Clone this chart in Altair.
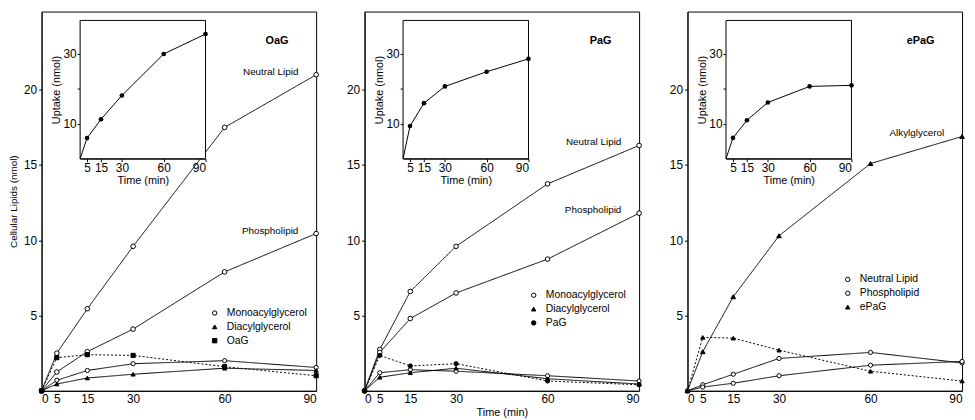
import altair as alt
import pandas as pd

FONT = "Liberation Sans"

times = [0, 5, 15, 30, 60, 90]
main_x_ticks = [0, 5, 15, 30, 60, 90]
main_y_ticks = [5, 10, 15, 20]
inset_x_ticks = [5, 15, 30, 60, 90]
inset_y_ticks = [10, 20, 30]
main_y_domain = [0, 25.2]
inset_t_domain = [0, 90]
inset_u_domain = [0, 39.6]

panel_names = ["OaG", "PaG", "ePaG"]

# ---- OaG panel
oag_neutral_lipid = [0, 2.5, 5.45, 9.6, 17.5, 21.0]
oag_phospholipid = [0, 1.25, 2.6, 4.1, 7.9, 10.45]
oag_monoacylglycerol = [0, 0.7, 1.35, 1.8, 2.0, 1.55]
oag_diacylglycerol = [0, 0.45, 0.85, 1.1, 1.5, 1.35]
oag_substrate = [0, 2.2, 2.4, 2.35, 1.6, 1.0]
oag_uptake = [0, 5.9, 11.3, 18.1, 30.0, 35.7]

# ---- PaG panel
pag_neutral_lipid = [0, 2.75, 6.6, 9.6, 13.75, 16.3]
pag_phospholipid = [0, 2.55, 4.8, 6.5, 8.75, 11.8]
pag_monoacylglycerol = [0, 1.2, 1.4, 1.3, 1.0, 0.65]
pag_diacylglycerol = [0, 0.9, 1.2, 1.5, 0.8, 0.45]
pag_substrate = [0, 2.35, 1.65, 1.8, 0.65, 0.4]
pag_uptake = [0, 9.35, 15.9, 20.7, 24.9, 28.6]

# ---- ePaG panel
epag_alkylglycerol = [0, 2.6, 6.25, 10.3, 15.1, 16.9]
epag_neutral_lipid = [0, 0.4, 1.1, 2.15, 2.55, 1.85]
epag_phospholipid = [0, 0.25, 0.5, 1.0, 1.7, 1.95]
epag_substrate = [0, 3.55, 3.5, 2.7, 1.3, 0.65]
epag_uptake = [0, 5.95, 11.0, 16.1, 20.7, 21.0]

W = 278
H = 384
INSET_X_RANGE = [39, 166]
INSET_Y_RANGE = [149, 9]


def make_panel(name, labeled, labeled_shape, labeled_fill, legend_series,
               uptake, legend_xy, xtitle, ytitle):
    rows = []
    for lab, vals in labeled:
        for t, v in zip(times, vals):
            rows.append({"t": t, "v": v, "series": lab, "dash": "solid"})
    for lab, vals, shp, fil, dash in legend_series:
        for t, v in zip(times, vals):
            rows.append({"t": t, "v": v, "series": lab, "dash": dash})
    df = pd.DataFrame(rows)
    lab_names = [l[0] for l in labeled]
    leg_names = [l[0] for l in legend_series]
    leg_shapes = [l[2] for l in legend_series]
    leg_fills = [l[3] for l in legend_series]

    x_axis = alt.Axis(values=main_x_ticks, title=xtitle, ticks=False,
                      labelPadding=3, titlePadding=2, titleFontSize=11)
    y_axis = alt.Axis(values=main_y_ticks, title=ytitle, tickSize=3,
                      labelPadding=2, titlePadding=5, titleFontSize=10)
    X = alt.X("t:Q", scale=alt.Scale(domain=[0, 90], nice=False, zero=False), axis=x_axis)
    Y = alt.Y("v:Q", scale=alt.Scale(domain=main_y_domain, nice=False), axis=y_axis)

    base = alt.Chart(df)
    lines = base.mark_line(color="black", strokeWidth=1).encode(
        x=X, y=Y, detail="series:N",
        strokeDash=alt.StrokeDash("dash:N", scale=alt.Scale(domain=["solid", "dotted"],
                                                            range=[[1, 0], [2, 2]]), legend=None),
    )
    pts_lab = base.transform_filter(
        alt.FieldOneOfPredicate(field="series", oneOf=lab_names)
    ).mark_point(shape=labeled_shape, filled=True, fill=labeled_fill, stroke="black",
                 strokeWidth=1, size=22, opacity=1).encode(x=X, y=Y)
    leg = alt.Legend(title=None, orient="none", legendX=legend_xy[0], legendY=legend_xy[1],
                     labelFontSize=10.5, labelFont=FONT, labelColor="black", symbolSize=20,
                     symbolStrokeColor="black", symbolStrokeWidth=1, rowPadding=3,
                     labelOffset=7, padding=0)
    pts_leg = base.transform_filter(
        alt.FieldOneOfPredicate(field="series", oneOf=leg_names)
    ).mark_point(filled=False, strokeWidth=1, size=18, opacity=1).encode(
        x=X, y=Y,
        shape=alt.Shape("series:N", scale=alt.Scale(domain=leg_names, range=leg_shapes), legend=leg),
        fill=alt.Fill("series:N", scale=alt.Scale(domain=leg_names, range=leg_fills), legend=leg),
        stroke=alt.Stroke("series:N", scale=alt.Scale(domain=leg_names,
                                                      range=["black"] * len(leg_names)),
                          legend=leg),
    )
    last = df[(df["t"] == 90) & (df["series"].isin(lab_names))]
    texts = alt.Chart(last).mark_text(align="right", baseline="middle", dx=-18, dy=-3,
                                      fontSize=10, font=FONT, color="black").encode(
        x=X, y=Y, text="series:N")
    title_txt = alt.Chart(pd.DataFrame({"t": [90], "v": [main_y_domain[1]]})).mark_text(
        text=name, align="right", baseline="middle", dx=-28, dy=30, fontSize=11,
        fontWeight="bold", font=FONT, color="black").encode(x=X, y=Y)

    main = alt.layer(lines, pts_lab, pts_leg, texts, title_txt)

    # ---- inset
    idf = pd.DataFrame({"t": times, "u": uptake})
    fdf = pd.DataFrame({"t": [inset_t_domain[0]], "t2": [inset_t_domain[1]],
                        "u": [inset_u_domain[0]], "u2": [inset_u_domain[1]]})
    ix_axis = alt.Axis(values=inset_x_ticks, orient="bottom", offset=-(H - INSET_Y_RANGE[0]),
                       title="Time (min)", titleFontSize=11, tickSize=3, labelPadding=1,
                       titlePadding=1)
    iy_axis = alt.Axis(values=inset_y_ticks, orient="left", offset=-INSET_X_RANGE[0],
                       title="Uptake (nmol)", titleFontSize=11, tickSize=3, labelPadding=1,
                       titlePadding=1, labelExpr="datum.value == 20 ? '' : datum.label")
    IX = alt.X("t:Q", scale=alt.Scale(domain=inset_t_domain, range=INSET_X_RANGE, nice=False,
                                      zero=False), axis=ix_axis)
    IY = alt.Y("u:Q", scale=alt.Scale(domain=inset_u_domain, range=INSET_Y_RANGE, nice=False),
               axis=iy_axis)
    frame = alt.Chart(fdf).mark_rect(fill="white", stroke="black", strokeWidth=1).encode(
        x=IX, x2="t2:Q", y=IY, y2="u2:Q")
    iline = alt.Chart(idf).mark_line(color="black", strokeWidth=1).encode(x=IX, y=IY)
    ipts = alt.Chart(idf).transform_filter("datum.t > 0").mark_point(
        filled=True, color="black", size=22, opacity=1).encode(x=IX, y=IY)
    inset = alt.layer(frame, iline, ipts)

    return alt.layer(main, inset).resolve_scale(x="independent", y="independent").properties(
        width=W, height=H)


p1 = make_panel(
    "OaG",
    [("Neutral Lipid", oag_neutral_lipid), ("Phospholipid", oag_phospholipid)],
    "circle", "white",
    [("Monoacylglycerol", oag_monoacylglycerol, "circle", "white", "solid"),
     ("Diacylglycerol", oag_diacylglycerol, "triangle-up", "black", "solid"),
     ("OaG", oag_substrate, "square", "black", "dotted")],
    oag_uptake, (170, 300), None, "Cellular Lipids (nmol)")

p2 = make_panel(
    "PaG",
    [("Neutral Lipid", pag_neutral_lipid), ("Phospholipid", pag_phospholipid)],
    "circle", "white",
    [("Monoacylglycerol", pag_monoacylglycerol, "circle", "white", "solid"),
     ("Diacylglycerol", pag_diacylglycerol, "triangle-up", "black", "solid"),
     ("PaG", pag_substrate, "circle", "black", "dotted")],
    pag_uptake, (166, 282), "Time (min)", None)

p3 = make_panel(
    "ePaG",
    [("Alkylglycerol", epag_alkylglycerol)],
    "triangle-up", "black",
    [("Neutral Lipid", epag_neutral_lipid, "circle", "white", "solid"),
     ("Phospholipid", epag_phospholipid, "circle", "white", "solid"),
     ("ePaG", epag_substrate, "triangle-up", "black", "dotted")],
    epag_uptake, (157, 266), None, None)

chart = alt.hconcat(p1, p2, p3, spacing=25).resolve_scale(
    x="independent", y="independent", shape="independent", fill="independent",
    stroke="independent", strokeDash="independent"
).configure_view(stroke="black", strokeWidth=1).configure_axis(
    grid=False, domainColor="black", tickColor="black", labelColor="black",
    titleColor="black", labelFont=FONT, titleFont=FONT, labelFontSize=12,
    titleFontWeight="normal"
).configure_text(font=FONT).properties(padding=0, background="white")

chart.save("out.html", embed_options={"renderer": "svg", "actions": False})
